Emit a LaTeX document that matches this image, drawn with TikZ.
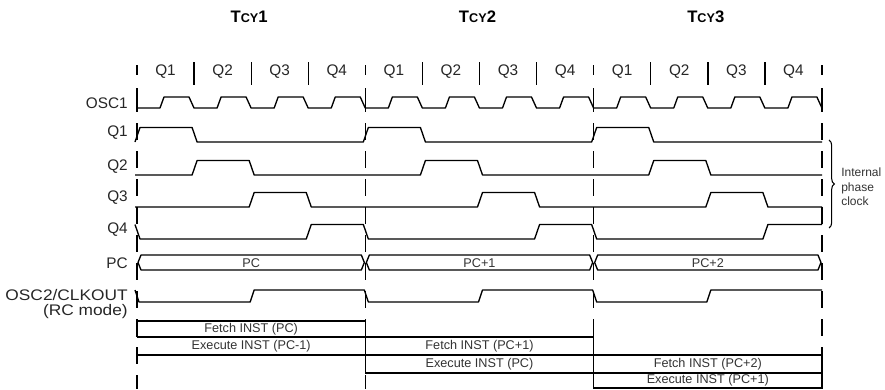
\documentclass[tikz,border=0pt]{standalone}
\usepackage{fontspec}
\setmainfont{Liberation Sans}
\newfontfamily\widesans[FakeStretch=1.13]{Liberation Sans}
\usetikzlibrary{decorations.pathreplacing}

\tikzset{
  sig/.style={line width=1pt, line join=round},
  cyclegrid/.style={line width=1pt, dash pattern=on 12.75pt off 8.25pt},
  signame/.style={anchor=east, inner sep=0pt, text=black!85, font=\fontsize{11.5}{13}\selectfont},
  qname/.style={inner sep=0pt, text=black!85, font=\fontsize{11.5}{13}\selectfont},
  small/.style={inner sep=0pt, text=black!80, font=\fontsize{9.5}{11}\selectfont},
  cyclename/.style={inner sep=0pt, font=\fontsize{12.5}{14}\selectfont\bfseries},
}

\begin{document}
\begin{tikzpicture}[x=0.75pt,y=-0.75pt]
  \def\cyc{228.33}
  \def\qt{57.083}
  \useasboundingbox (0,0) rectangle (885,389);

  % Cycle names
  \foreach \c in {1,2,3} {
    \node[cyclename] (tcy\c) at ({137+(\c-0.5)*\cyc-2},17) {T{\fontsize{9.5}{10}\selectfont CY}\c};
  }

  % Quarter names and separators
  \foreach \c in {0,1,2} {
    \foreach \k in {1,2,3,4} {
      \node[qname] (q\c\k) at ({137+\c*\cyc+(\k-0.5)*\qt},72) {Q\k};
    }
    \foreach \k in {1,2,3} {
      \draw[sig] ({137+\c*\cyc+\k*\qt},62) -- ++(0,23);
    }
  }

  % Cycle boundaries
  \foreach \c in {0,...,3} {
    \draw[sig] ({137+\c*\cyc},65) -- ++(0,10);
    \draw[sig] ({137+\c*\cyc},88) -- ++(0,24);
    \draw[cyclegrid] ({137+\c*\cyc},123) -- ({137+\c*\cyc},389);
  }

  % Signal names
  \node[signame] (nosc1) at (128,103) {OSC1};
  \node[signame] (nq1) at (128,133) {Q1};
  \node[signame] (nq2) at (128,167) {Q2};
  \node[signame] (nq3) at (128,198) {Q3};
  \node[signame] (nq4) at (128,230) {Q4};
  \node[signame] (npc) at (128,263) {PC};
  \node[signame, font=\widesans\fontsize{11.5}{13}\selectfont] (nosc2) at (128,295) {OSC2/CLKOUT};
  \node[signame, font=\widesans\fontsize{11.5}{13}\selectfont] (nrc) at (128,312) {(RC mode)};

  % OSC1
  \draw[sig] (137,108) \foreach \k in {0,...,11} {
      -- ({137+\k*\qt+23},108) -- ++(4,-11) -- ({137+\k*\qt+52},97) -- ++(5,11)
    };

  % Internal phase clocks Q1..Q3
  \foreach \p/\yl in {1/142,2/175,3/207} {
    \draw[sig] (135,\yl) \foreach \c in {0,1,2} {
        -- ({137+\c*\cyc+(\p-1)*\qt-2},\yl) -- ++(5,-14.5)
        -- ({137+\c*\cyc+\p*\qt-2},{\yl-14.5}) -- ++(5,14.5)
      } -- (822,\yl);
  }

  % Q4 (high at the start of each cycle)
  \draw[sig] (135,224.5) -- (140,239) \foreach \c in {0,1} {
      -- ({137+\c*\cyc+3*\qt-2},239) -- ++(5,-14.5)
      -- ({137+(\c+1)*\cyc-2},224.5) -- ++(5,14.5)
    } -- ({137+2*\cyc+3*\qt-2},239) -- ++(5,-14.5) -- (822,224.5);

  % PC bus
  \foreach \c/\txt in {0/PC,1/PC+1,2/PC+2} {
    \draw[sig] ({137+\c*\cyc+1},262.5) -- ++(3,-7.5) -- ({137+(\c+1)*\cyc-4},255)
      -- ++(3,7.5) -- ++(-3,7.5) -- ({137+\c*\cyc+4},270) -- cycle;
    \node[small] (pc\c) at ({137+(\c+0.5)*\cyc},263) {\txt};
  }

  % OSC2/CLKOUT
  \draw[sig] (135,290) -- (139,302) \foreach \c in {0,1} {
      -- ({137+\c*\cyc+2*\qt-1},302) -- ++(4,-12)
      -- ({137+(\c+1)*\cyc-1},290) -- ++(4,12)
    } -- ({137+2*\cyc+2*\qt-1},302) -- ++(4,-12) -- (822,290);

  % Fetch / execute pipeline
  \draw[sig] (137,337) -- (137,321) -- ({137+\cyc},321) -- ({137+\cyc},373);
  \draw[sig] (137,337) -- ({137+2*\cyc},337);
  \draw[sig] (137,355) -- (822,355);
  \draw[sig] ({137+\cyc},373) -- (822,373);
  \draw[sig] ({137+2*\cyc},321) -- ({137+2*\cyc},388) -- (822,388) -- (822,355);

  \node[small] (f0) at ({137+0.5*\cyc},329) {Fetch INST (PC)};
  \node[small] (e0) at ({137+0.5*\cyc},346) {Execute INST (PC-1)};
  \node[small] (f1) at ({137+1.5*\cyc},346) {Fetch INST (PC+1)};
  \node[small] (e1) at ({137+1.5*\cyc},364) {Execute INST (PC)};
  \node[small] (f2) at ({137+2.5*\cyc},364) {Fetch INST (PC+2)};
  \node[small] (e2) at ({137+2.5*\cyc},380.5) {Execute INST (PC+1)};

  % Internal phase clock brace
  \draw[line width=0.8pt, decorate, decoration={brace, amplitude=4pt}] (829,140) -- (829,228);
  \node[small, anchor=west, align=left, font=\fontsize{9}{11}\selectfont] (iphase) at (841,187) {Internal\\phase\\clock};
\end{tikzpicture}
\end{document}
